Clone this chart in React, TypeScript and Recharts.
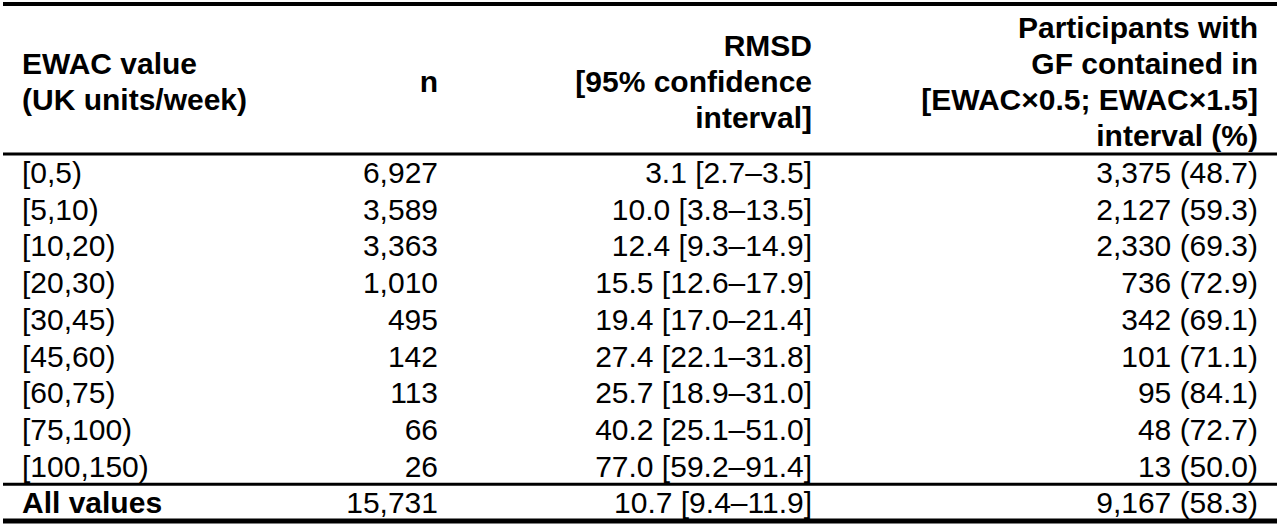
import React from 'react';
import { ComposedChart, Bar, XAxis, YAxis, ReferenceLine } from 'recharts';

// ---- data ----
const ranges = ['[0,5)', '[5,10)', '[10,20)', '[20,30)', '[30,45)', '[45,60)', '[60,75)', '[75,100)', '[100,150)', 'All values'];
const nValues = [6927, 3589, 3363, 1010, 495, 142, 113, 66, 26, 15731];
const rmsd = [3.1, 10.0, 12.4, 15.5, 19.4, 27.4, 25.7, 40.2, 77.0, 10.7];
const ciLow = [2.7, 3.8, 9.3, 12.6, 17.0, 22.1, 18.9, 25.1, 59.2, 9.4];
const ciHigh = [3.5, 13.5, 14.9, 17.9, 21.4, 31.8, 31.0, 51.0, 91.4, 11.9];
const gfCount = [3375, 2127, 2330, 736, 342, 101, 95, 48, 13, 9167];
const gfPct = [48.7, 59.3, 69.3, 72.9, 69.1, 71.1, 84.1, 72.7, 50.0, 58.3];

const headers: string[][] = [
  ['EWAC value', '(UK units/week)'],
  ['n'],
  ['RMSD', '[95% confidence', 'interval]'],
  ['Participants with', 'GF contained in', '[EWAC\u00d70.5; EWAC\u00d71.5]', 'interval (%)'],
];

// ---- layout ----
const W = 1280;
const H = 529;
const MARGIN = { top: 0, right: 3, bottom: 0, left: 3 };
const PLOT_W = W - MARGIN.left - MARGIN.right;
const COL_ANCHORS = [19, 435, 809, 1255];
const COL_ALIGN = ['start', 'end', 'end', 'end'];
const SEGMENTS = COL_ANCHORS.map((a, i) => (i === 0 ? a : a - COL_ANCHORS[i - 1]));
const FONT = '"Liberation Sans", Arial, Helvetica, sans-serif';
const FS = 30;
const LINE_H = 36;
const HEADER_CENTER_OFFSET = -73;

const fmtInt = (v: number) => v.toLocaleString('en-US');
const cellText = (col: number, i: number): string => {
  if (col === 0) return ranges[i];
  if (col === 1) return fmtInt(nValues[i]);
  if (col === 2) return `${rmsd[i].toFixed(1)} [${ciLow[i].toFixed(1)}\u2013${ciHigh[i].toFixed(1)}]`;
  return `${fmtInt(gfCount[i])} (${gfPct[i].toFixed(1)})`;
};

const tableData = ranges.map((r, i) => ({ range: r, idx: i }));

const makeShape = (col: number) => (props: any) => {
  const { x, y, width, height, index } = props;
  const bold = col === 0 && index === ranges.length - 1;
  return (
    <text
      x={x + width}
      y={y + height / 2}
      dy="0.35em"
      textAnchor={COL_ALIGN[col] as any}
      fontFamily={FONT}
      fontSize={FS}
      fontWeight={bold ? 700 : 400}
      fill="#000"
    >
      {cellText(col, index)}
    </text>
  );
};

const HeaderTick = (props: any) => {
  const { x, y, payload } = props;
  const col = COL_ANCHORS.indexOf(payload.value);
  if (col < 0) return null;
  const lines = headers[col];
  const center = y + HEADER_CENTER_OFFSET;
  return (
    <g>
      {lines.map((ln, k) => (
        <text
          key={k}
          x={x}
          y={center + (k - (lines.length - 1) / 2) * LINE_H}
          dy="0.35em"
          textAnchor={COL_ALIGN[col] as any}
          fontFamily={FONT}
          fontSize={FS}
          fontWeight={700}
          fill="#000"
        >
          {ln}
        </text>
      ))}
    </g>
  );
};

export default function App() {
  return (
    <div style={{ width: W, height: H, background: '#fff' }}>
      <style>{`body{margin:0;background:#fff}`}</style>
      <ComposedChart
        width={W}
        height={H}
        data={tableData}
        layout="vertical"
        margin={MARGIN}
        barCategoryGap={0}
        barGap={0}
      >
        <XAxis
          xAxisId="zframe"
          type="number"
          orientation="top"
          domain={[0, PLOT_W]}
          allowDataOverflow
          height={4}
          tick={false}
          tickLine={false}
          axisLine={{ stroke: '#000', strokeWidth: 4 }}
        />
        <XAxis
          xAxisId="ahead"
          type="number"
          orientation="top"
          domain={[0, PLOT_W]}
          ticks={COL_ANCHORS}
          interval={0}
          allowDataOverflow
          height={150}
          tickLine={false}
          tickSize={0}
          tickMargin={0}
          axisLine={{ stroke: '#000', strokeWidth: 3 }}
          tick={(p: any) => <HeaderTick {...p} />}
        />
        <XAxis
          xAxisId="bottom"
          type="number"
          orientation="bottom"
          domain={[0, PLOT_W]}
          allowDataOverflow
          height={8}
          tick={false}
          tickLine={false}
          axisLine={{ stroke: '#000', strokeWidth: 5 }}
        />
        <YAxis type="category" dataKey="range" hide />
        {SEGMENTS.map((seg, col) => (
          <Bar
            key={col}
            xAxisId="ahead"
            stackId="cells"
            dataKey={() => seg}
            fill="none"
            isAnimationActive={false}
            shape={makeShape(col)}
          />
        ))}
        <ReferenceLine
          xAxisId="ahead"
          y="All values"
          position="start"
          stroke="#000"
          strokeWidth={3}
          ifOverflow="extendDomain"
        />
      </ComposedChart>
    </div>
  );
}
